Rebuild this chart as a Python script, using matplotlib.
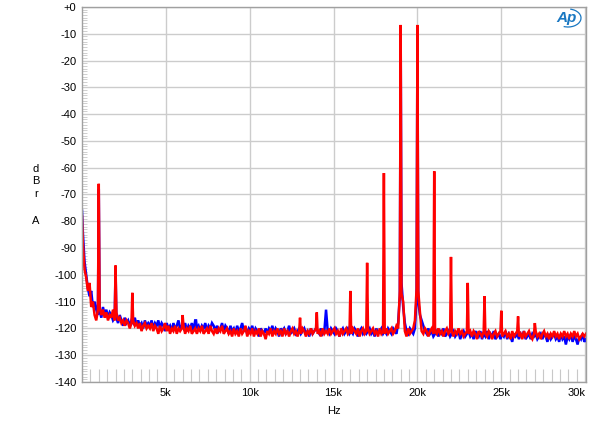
import numpy as np
import matplotlib
matplotlib.use("Agg")
import matplotlib.pyplot as plt
from matplotlib.patches import Arc

plt.rcParams['font.family'] = ['Liberation Sans', 'DejaVu Sans']

# Frequency sampling grid of the noise floor readings (Hz): 0, then 50, 150, ... 30050
floor_freq = [0] + list(range(50, 30100, 100))

# Noise floor readings (dBrA); one row per kHz
red_floor = [
    -78,
    -88, -98, -101, -106, -103, -112, -110, -115, -117, -113,
    -112, -115, -113, -116, -114, -117, -115, -116, -113, -117,
    -114, -117, -116, -118, -117, -119, -117, -118, -120, -118,
    -117, -119, -118, -120, -118, -121, -119, -118, -120, -119,
    -120, -118, -121, -119, -120, -122, -119, -121, -120, -118,
    -121, -119, -122, -120, -121, -119, -122, -120, -121, -120,
    -119, -122, -120, -121, -119, -122, -121, -120, -122, -120,
    -121, -119, -122, -121, -120, -122, -119, -121, -122, -120,
    -122, -120, -121, -119, -122, -121, -120, -122, -121, -123,
    -120, -122, -121, -123, -120, -122, -121, -119, -123, -121,
    -122, -120, -123, -121, -122, -120, -123, -121, -122, -124,
    -121, -122, -120, -123, -121, -122, -120, -122, -121, -123,
    -120, -122, -121, -123, -121, -120, -122, -121, -123, -121,
    -122, -120, -121, -123, -121, -122, -120, -122, -121, -120,
    -122, -121, -123, -120, -122, -121, -122, -120, -122, -121,
    -120, -122, -121, -123, -120, -122, -121, -120, -122, -121,
    -122, -120, -121, -122, -120, -123, -121, -120, -122, -121,
    -120, -122, -121, -120, -122, -121, -123, -120, -122, -121,
    -122, -120, -122, -121, -120, -122, -121, -119, -120, -106,
    -107, -110, -121, -123, -120, -122, -121, -120, -117, -105,
    -106, -114, -121, -122, -120, -121, -123, -121, -120, -122,
    -121, -122, -120, -122, -121, -123, -121, -120, -122, -121,
    -121, -123, -121, -122, -120, -122, -121, -123, -122, -121,
    -122, -121, -123, -121, -122, -124, -121, -122, -123, -121,
    -122, -123, -121, -122, -124, -122, -121, -123, -122, -121,
    -123, -122, -121, -123, -122, -124, -121, -123, -122, -121,
    -123, -122, -124, -121, -123, -122, -121, -123, -124, -122,
    -121, -123, -122, -124, -122, -121, -123, -122, -124, -122,
    -123, -121, -123, -122, -124, -122, -123, -121, -123, -122,
    -124, -122, -123, -121, -123, -122, -124, -123, -122, -123,
    -122,
]

blue_floor = [
    -76,
    -84, -95, -100, -105, -108, -106, -112, -110, -113, -115,
    -113, -116, -112, -115, -113, -116, -114, -115, -117, -116,
    -116, -118, -115, -117, -119, -116, -118, -117, -119, -117,
    -118, -116, -119, -117, -119, -118, -120, -117, -119, -118,
    -119, -117, -120, -118, -119, -117, -120, -118, -119, -121,
    -118, -120, -119, -121, -118, -120, -119, -117, -120, -119,
    -120, -118, -121, -119, -120, -118, -121, -117, -120, -119,
    -121, -119, -120, -118, -121, -119, -120, -118, -119, -121,
    -119, -121, -120, -118, -121, -119, -120, -122, -119, -121,
    -120, -122, -119, -121, -120, -118, -121, -120, -122, -120,
    -121, -119, -122, -120, -121, -123, -120, -121, -122, -120,
    -122, -120, -121, -119, -122, -120, -121, -123, -120, -121,
    -120, -122, -121, -119, -122, -121, -120, -122, -121, -120,
    -122, -121, -120, -122, -121, -123, -120, -122, -121, -120,
    -121, -122, -120, -122, -121, -113, -121, -122, -120, -121,
    -122, -120, -121, -123, -121, -120, -122, -121, -120, -122,
    -121, -122, -120, -121, -123, -121, -120, -122, -121, -122,
    -121, -120, -122, -121, -123, -120, -122, -121, -120, -122,
    -121, -122, -120, -121, -122, -120, -121, -122, -118, -108,
    -103, -112, -118, -121, -122, -120, -121, -122, -120, -108,
    -110, -115, -117, -119, -121, -122, -120, -122, -121, -123,
    -122, -121, -123, -121, -122, -120, -123, -122, -121, -123,
    -122, -121, -123, -122, -121, -124, -122, -121, -123, -122,
    -121, -123, -122, -124, -121, -122, -123, -121, -124, -122,
    -123, -121, -124, -122, -123, -121, -124, -123, -122, -124,
    -122, -123, -121, -124, -122, -123, -125, -122, -123, -122,
    -124, -122, -123, -121, -124, -123, -122, -124, -122, -123,
    -122, -124, -123, -122, -124, -122, -123, -125, -122, -124,
    -123, -122, -124, -123, -125, -122, -124, -123, -126, -123,
    -124, -122, -125, -123, -124, -126, -123, -124, -122, -125,
    -124,
]

# Discrete tones (Hz, dBrA)
red_tone_freq = [1000, 2000, 3000, 6000, 13000, 14000, 16000, 17000, 18000,
                 19000, 20000, 21000, 22000, 23000, 24000, 25000, 26000, 27000]
red_tone_db = [-66, -96.5, -106.7, -115, -116, -114, -106, -95.5, -62,
               -6.7, -6.7, -61.3, -93.3, -103, -108, -113.4, -115.5, -118]

blue_tone_freq = [1000, 2000, 6800, 19000, 20000]
blue_tone_db = [-68, -98, -117, -8, -8]

y_ticks = list(range(0, -150, -10))
y_ticklabels = ['+0'] + [str(v) for v in y_ticks[1:]]
x_ticks = [5000, 10000, 15000, 20000, 25000, 30000]
x_ticklabels = ['5k', '10k', '15k', '20k', '25k', '30k']


def merge(ff, fv, tf, tv):
    f = list(ff) + list(tf)
    v = list(fv) + list(tv)
    order = np.argsort(f, kind='stable')
    return np.asarray(f)[order], np.asarray(v)[order]


assert len(red_floor) == len(floor_freq), len(red_floor)
assert len(blue_floor) == len(floor_freq), len(blue_floor)

bx, by = merge(floor_freq, blue_floor, blue_tone_freq, blue_tone_db)
rx, ry = merge(floor_freq, red_floor, red_tone_freq, red_tone_db)

fig = plt.figure(figsize=(6.0, 4.26), dpi=100)
ax = fig.add_axes([82 / 600, (426 - 382) / 426, (586 - 82) / 600, (382 - 7) / 426])

ax.plot(bx, by, color='#0000ff', lw=1.8, solid_joinstyle='miter')
ax.plot(rx, ry, color='#ff0000', lw=1.8, solid_joinstyle='miter')

ax.set_xlim(0, 30050)
ax.set_ylim(-140, 0)

ax.set_yticks(y_ticks)
ax.set_yticklabels(y_ticklabels, fontsize=8)
ax.set_xticks(x_ticks)
ax.set_xticklabels(x_ticklabels, fontsize=8)
ax.get_xticklabels()[-1].set_horizontalalignment('right')

ax.set_xticks(np.arange(0, 30050, 500), minor=True)
ax.set_yticks(np.arange(-140, 1, 1), minor=True)
ax.tick_params(axis='both', which='major', length=0, pad=4, colors='black')
ax.tick_params(axis='x', which='minor', direction='in', length=9.5,
               color='#c8c8c8', width=0.8, bottom=True)
ax.tick_params(axis='y', which='minor', direction='in', length=3.5,
               color='#c8c8c8', width=0.6, left=True)

ax.grid(True, which='major', color='#cccccc', lw=1.0)
ax.set_axisbelow(True)
for s in ax.spines.values():
    s.set_color('#a0a0a0')
    s.set_linewidth(1.0)

ax.set_xlabel('Hz', fontsize=8, labelpad=6)

for ch, yy in zip(['d', 'B', 'r', 'A'], [169, 181, 194, 221]):
    fig.text(36 / 600, 1 - yy / 426, ch, fontsize=8, ha='center', va='center')

fig.text(566 / 600, 1 - 18 / 426, 'Ap', fontsize=11, fontstyle='italic',
         fontweight='bold', color='#1a78c2', ha='center', va='center')
logo_arc = Arc((568 / 600, 1 - 18 / 426), 26 / 600, 18 / 426, angle=0,
               theta1=250, theta2=80, transform=fig.transFigure,
               color='#1a78c2', lw=0.9)
fig.add_artist(logo_arc)

fig.savefig('out.png', dpi=100)
